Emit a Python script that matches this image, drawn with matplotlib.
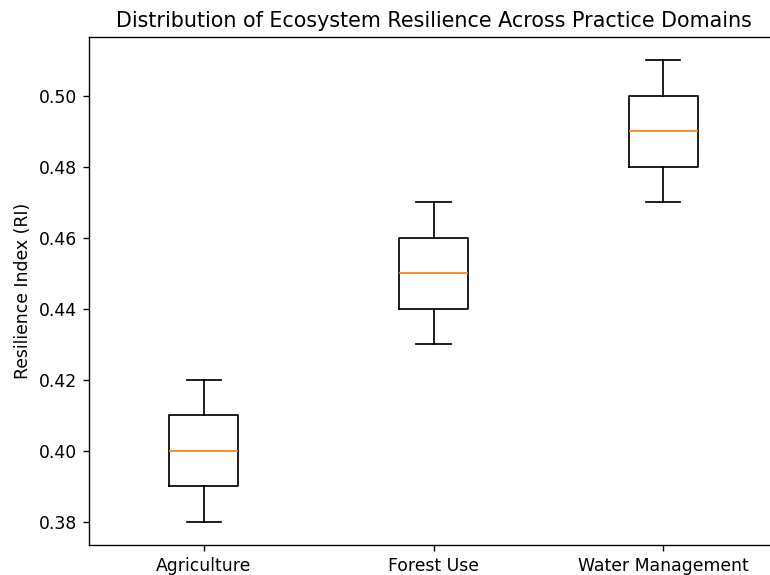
import matplotlib
matplotlib.use('Agg')
import matplotlib.pyplot as plt

# Resilience index samples per practice domain
domains = ['Agriculture', 'Forest Use', 'Water Management']
agriculture = [0.38, 0.39, 0.40, 0.41, 0.42]
forest_use = [0.43, 0.44, 0.45, 0.46, 0.47]
water_management = [0.47, 0.48, 0.49, 0.50, 0.51]

DPI = 124
W, H = 770, 575
fig, ax = plt.subplots(figsize=(W / DPI, H / DPI), dpi=DPI)
ax.boxplot([agriculture, forest_use, water_management])
ax.set_xticks([1, 2, 3])
ax.set_xticklabels(domains)
ax.set_ylabel('Resilience Index (RI)')
ax.set_title('Distribution of Ecosystem Resilience Across Practice Domains')

# the original image is cropped on the right, so the axes run past the edge
left, right, top, bottom = 89, 778, 37, 545
ax.set_position([left / W, 1 - bottom / H, (right - left) / W, (bottom - top) / H])
ax.spines['right'].set_visible(False)  # falls outside the crop in the original
fig.savefig('out.png', dpi=DPI)
